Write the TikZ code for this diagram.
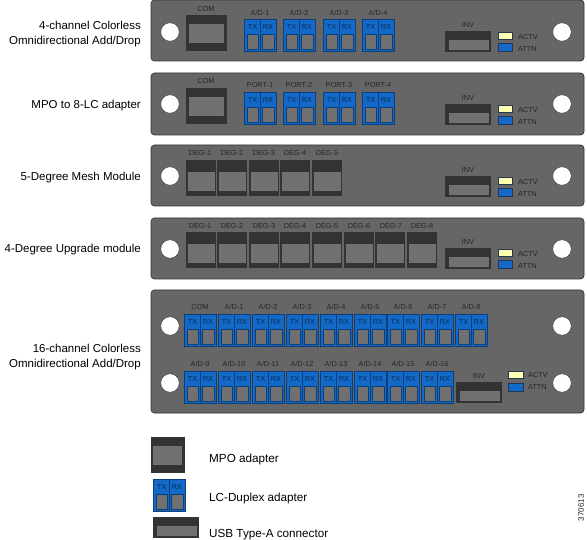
\documentclass[tikz,border=0pt]{standalone}
\usepackage{fontspec}
\setmainfont{Liberation Sans}
\usepackage{xcolor}
\usetikzlibrary{positioning}
\definecolor{panelgrey}{HTML}{666666}
\definecolor{paneledge}{HTML}{333333}
\definecolor{portdark}{HTML}{333333}
\definecolor{portgrey}{HTML}{707070}
\definecolor{lcblue}{HTML}{1269C7}
\definecolor{lcedge}{HTML}{0C3F78}
\definecolor{ledyellow}{HTML}{FFFFB3}
\tikzset{
 panel/.style={fill=panelgrey,draw=paneledge,line width=.7pt,rounded corners=3.5pt},
 hole/.style={circle,fill=white,draw=paneledge,line width=.4pt,minimum size=18.5pt,inner sep=0pt},
 lab/.style={font=\fontsize{7.3}{8}\selectfont,text=black!85,inner sep=0pt,yshift=-.8pt},
 side/.style={font=\fontsize{11.5}{15}\selectfont,align=right,anchor=east,inner sep=0pt,yshift=-1.8pt},
 key/.style={font=\fontsize{11.7}{14}\selectfont,anchor=west,inner sep=0pt,yshift=-1.8pt},
 led/.style={draw=paneledge!60!lcedge,line width=.4pt},
 window/.style={fill=portgrey,draw=lcedge,line width=.6pt},
 bay/.style={fill=portgrey,draw=black!55,line width=.5pt},
 lcduplex/.pic={
  \fill[lcblue] (0,0) rectangle (32,32);
  \draw[lcedge,line width=.6pt] (0,0) rectangle (32,32) (16,0)--(16,32);
  \draw[window] (3,15) rectangle (14,30);
  \draw[window] (18,15) rectangle (30,30);
  \node[lab,text=lcedge!70!black] (-tx) at (8.5,7) {TX};
  \node[lab,text=lcedge!70!black] (-rx) at (24,7) {RX};
 },
 mpo/.pic={
  \fill[portdark] (0,0) rectangle (41,36);
  \draw[bay] (3,9) rectangle (37,27);
 },
 deg/.pic={
  \fill[portdark] (0,0) rectangle (30,36);
  \draw[bay] (2,12.5) rectangle (28,30);
 },
 usb/.pic={
  \fill[portdark] (0,0) rectangle (46,21);
  \draw[bay] (4,9) rectangle (43,18);
 }}
\begin{document}
\begin{tikzpicture}[x=1pt,y=-1pt]
\useasboundingbox (0,0) rectangle (587,540);
% Module faces, top to bottom.
\foreach \top/\bot in {0/61,73/135,145/206,218/279,290/413}
  \draw[panel] (151,\top) rectangle (584,\bot);
% Mounting holes.
\foreach \y [count=\i] in {32,104,176,249,326,383}{
  \node[hole] (holeL\i) at (170,\y) {};
  \node[hole] (holeR\i) at (562,\y) {};
}
% Module names on the left.
\node[side] (nameA) at (141,32) {4-channel Colorless\\Omnidirectional Add/Drop};
\node[side] (nameB) at (141,104) {MPO to 8-LC adapter};
\node[side] (nameC) at (141,176) {5-Degree Mesh Module};
\node[side] (nameD) at (141,248) {4-Degree Upgrade module};
\node[side] (nameE) at (141,355) {16-channel Colorless\\Omnidirectional Add/Drop};
% COM ports of the first two modules.
\pic (comA) at (186,15) {mpo};
\node[lab] (comlabA) at (206,8) {COM};
\pic (comB) at (186,88) {mpo};
\node[lab] (comlabB) at (206,80) {COM};
% Module 1 and 2: four duplex pairs.
\foreach \x [count=\i] in {244,283,323,362}{
  \pic (adA\i) at (\x,19) {lcduplex};
  \node[lab] (adlabA\i) at (\x+16,12) {A/D-\i};
  \pic (adB\i) at (\x,92) {lcduplex};
  \node[lab] (adlabB\i) at (\x+16,84) {PORT-\i};
}
% Module 3 and 4: DEG bays.
\foreach \x/\c [count=\i] in {200/186,232/217,264/249,295/280,327/312}{
  \pic (degC\i) at (\c,160) {deg};
  \node[lab] (deglabC\i) at (\x,152) {DEG-\i};
}
\foreach \x/\c [count=\i] in {200/186,232/217,264/249,295/280,327/312,359/344,391/375,422/407}{
  \pic (degD\i) at (\c,232) {deg};
  \node[lab] (deglabD\i) at (\x,225) {DEG-\i};
}
% INV port and LEDs, same layout on the first four modules.
\foreach \y/\m in {31/A,104/B,176/C,248/D}{
  \pic (inv\m) at (445,\y) {usb};
  \node[lab] (invlab\m) at (468,\y-7) {INV};
  \draw[led,fill=ledyellow] (498,\y+1) rectangle (512,\y+8.5);
  \draw[led,fill=lcblue] (498,\y+12.5) rectangle (512,\y+20.5);
  \node[lab,anchor=west] (actv\m) at (518,\y+5) {ACTV};
  \node[lab,anchor=west] (attn\m) at (518,\y+17) {ATTN};
}
% Module 5: two rows of duplex pairs.
\pic (comE) at (184,314) {lcduplex};
\node[lab] (comlabE) at (200,306) {COM};
\foreach \x [count=\i] in {218,252,286,320,354,387,421,455}{
  \pic (adE\i) at (\x,314) {lcduplex};
  \node[lab] (adlabE\i) at (\x+16,306) {A/D-\i};
}
\foreach \x [count=\i from 9] in {184,218,252,286,320,354,387,421}{
  \pic (adE\i) at (\x,371) {lcduplex};
  \node[lab] (adlabE\i) at (\x+16,363) {A/D-\i};
}
\pic (invE) at (456,382) {usb};
\node[lab] (invlabE) at (479,375) {INV};
\draw[led,fill=ledyellow] (508,371) rectangle (523,378);
\draw[led,fill=lcblue] (508,383) rectangle (523,391);
\node[lab,anchor=west] (actvE) at (528,374) {ACTV};
\node[lab,anchor=west] (attnE) at (528,386) {ATTN};
% Legend.
\pic[xscale=.83] (keyA) at (151,437) {mpo};
\node[key] (keylabA) at (209,458) {MPO adapter};
\pic (keyB) at (153,479) {lcduplex};
\node[key] (keylabB) at (209,497) {LC-Duplex adapter};
\pic (keyC) at (153,517) {usb};
\node[key] (keylabC) at (209,533) {USB Type-A connector};
\node[lab,font=\fontsize{8}{9}\selectfont,rotate=90] (figno) at (581,507) {370613};
\end{tikzpicture}
\end{document}
